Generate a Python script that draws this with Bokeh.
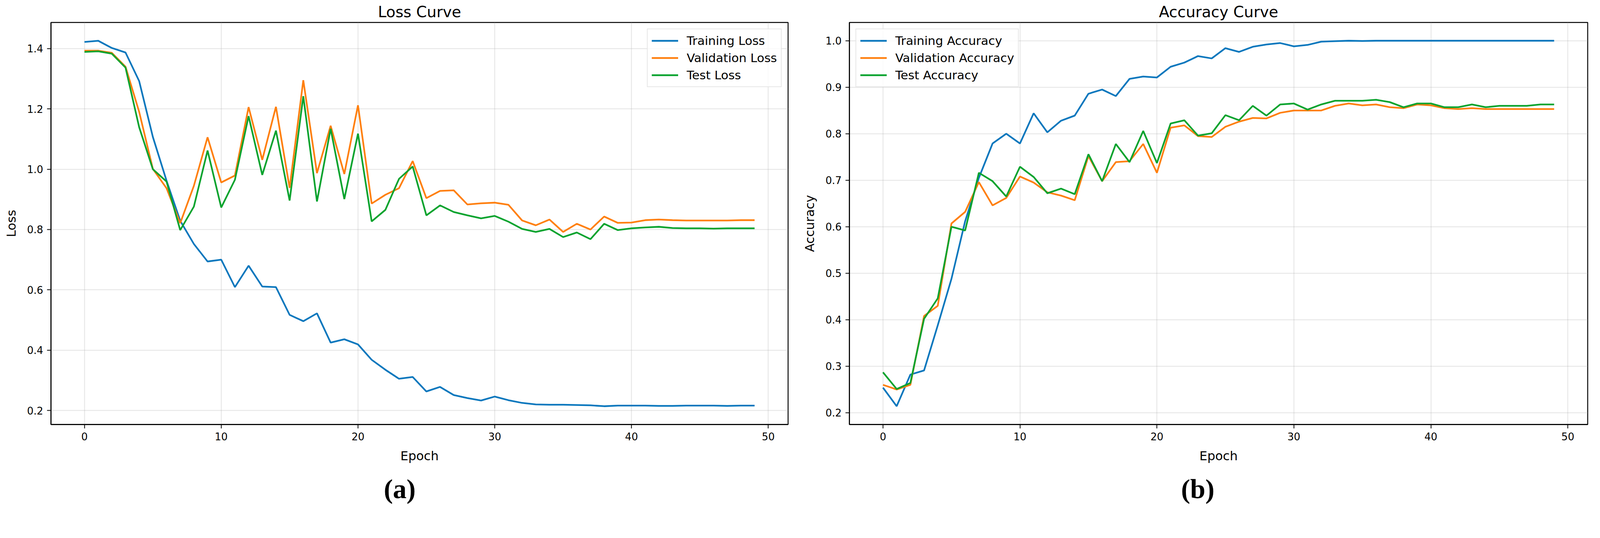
from bokeh.plotting import figure
from bokeh.models import Range1d, FixedTicker, NumeralTickFormatter, Title
from bokeh.layouts import row
from bokeh.embed import file_html
from bokeh.resources import INLINE

epochs = list(range(50))

train_loss = [1.422, 1.426, 1.402, 1.387, 1.292, 1.107, 0.962, 0.829, 0.752, 0.694,
              0.700, 0.609, 0.680, 0.611, 0.609, 0.517, 0.496, 0.522, 0.425, 0.436,
              0.419, 0.368, 0.335, 0.305, 0.311, 0.263, 0.278, 0.251, 0.241, 0.233,
              0.246, 0.234, 0.225, 0.220, 0.219, 0.219, 0.218, 0.217, 0.214, 0.216,
              0.216, 0.216, 0.215, 0.215, 0.216, 0.216, 0.216, 0.215, 0.216, 0.216]
val_loss = [1.393, 1.393, 1.386, 1.340, 1.190, 1.001, 0.937, 0.821, 0.945, 1.106,
            0.956, 0.979, 1.206, 1.031, 1.207, 0.938, 1.295, 0.987, 1.144, 0.984,
            1.212, 0.886, 0.915, 0.937, 1.027, 0.904, 0.928, 0.930, 0.883, 0.887,
            0.889, 0.882, 0.830, 0.814, 0.833, 0.792, 0.819, 0.800, 0.843, 0.822,
            0.823, 0.831, 0.833, 0.831, 0.830, 0.830, 0.830, 0.830, 0.831, 0.831]
test_loss = [1.389, 1.391, 1.383, 1.337, 1.139, 1.000, 0.959, 0.798, 0.876, 1.062,
             0.873, 0.965, 1.176, 0.981, 1.128, 0.896, 1.242, 0.893, 1.134, 0.901,
             1.118, 0.827, 0.865, 0.968, 1.009, 0.847, 0.880, 0.858, 0.847, 0.837,
             0.845, 0.826, 0.802, 0.792, 0.802, 0.775, 0.790, 0.768, 0.819, 0.798,
             0.804, 0.807, 0.809, 0.805, 0.804, 0.804, 0.803, 0.804, 0.804, 0.804]

train_acc = [0.254, 0.214, 0.282, 0.291, 0.388, 0.488, 0.612, 0.705, 0.779, 0.800,
             0.779, 0.844, 0.803, 0.828, 0.839, 0.886, 0.895, 0.881, 0.918, 0.923,
             0.921, 0.944, 0.953, 0.967, 0.962, 0.984, 0.976, 0.987, 0.992, 0.995,
             0.988, 0.991, 0.998, 0.999, 1.000, 0.9995, 1.000, 1.000, 1.000, 1.000,
             1.000, 1.000, 1.000, 1.000, 1.000, 1.000, 1.000, 1.000, 1.000, 1.000]
val_acc = [0.260, 0.250, 0.260, 0.408, 0.430, 0.607, 0.632, 0.696, 0.646, 0.662,
           0.708, 0.695, 0.674, 0.667, 0.657, 0.752, 0.698, 0.739, 0.741, 0.778,
           0.716, 0.813, 0.818, 0.795, 0.793, 0.815, 0.826, 0.834, 0.833, 0.845,
           0.850, 0.850, 0.850, 0.860, 0.865, 0.861, 0.863, 0.857, 0.855, 0.863,
           0.861, 0.855, 0.853, 0.855, 0.853, 0.853, 0.853, 0.853, 0.853, 0.853]
test_acc = [0.287, 0.251, 0.264, 0.402, 0.446, 0.600, 0.592, 0.716, 0.698, 0.665,
            0.729, 0.707, 0.672, 0.682, 0.670, 0.756, 0.698, 0.778, 0.739, 0.806,
            0.737, 0.822, 0.829, 0.796, 0.801, 0.840, 0.829, 0.860, 0.839, 0.863,
            0.865, 0.852, 0.863, 0.871, 0.871, 0.871, 0.873, 0.868, 0.857, 0.865,
            0.865, 0.857, 0.857, 0.863, 0.857, 0.860, 0.860, 0.860, 0.863, 0.863]

x_ticks = [0, 10, 20, 30, 40, 50]
loss_ticks = [0.2, 0.4, 0.6, 0.8, 1.0, 1.2, 1.4]
acc_ticks = [0.2, 0.3, 0.4, 0.5, 0.6, 0.7, 0.8, 0.9, 1.0]

loss_labels = ["Training Loss", "Validation Loss", "Test Loss"]
acc_labels = ["Training Accuracy", "Validation Accuracy", "Test Accuracy"]
colors = ["#0a77bd", "#ff7f0e", "#0aa32e"]

FONT = "DejaVu Sans"


def padded(vals):
    lo, hi = min(vals), max(vals)
    pad = 0.05 * (hi - lo)
    return lo - pad, hi + pad


def make_panel(title, ylabel, series, labels, yticks, legend_loc, caption,
               w, ml, mr, cap_offset):
    allv = [v for s in series for v in s]
    y0, y1 = padded(allv)
    x0, x1 = padded(epochs)
    p = figure(width=w, height=1311,
               x_range=Range1d(x0, x1), y_range=Range1d(y0, y1),
               output_backend="svg", toolbar_location=None,
               min_border_left=ml, min_border_right=mr,
               min_border_top=55, min_border_bottom=222)
    p.title.text = title
    p.title.align = "center"
    p.title.text_font = FONT
    p.title.text_font_size = "39px"
    p.title.text_font_style = "normal"
    p.title.text_color = "black"
    p.title.standoff = 10

    for s, lab, c in zip(series, labels, colors):
        p.line(epochs, s, line_color=c, line_width=4.3, legend_label=lab)

    p.xaxis.ticker = FixedTicker(ticks=x_ticks)
    p.yaxis.ticker = FixedTicker(ticks=yticks)
    p.yaxis.formatter = NumeralTickFormatter(format="0.0")
    p.xaxis.axis_label = "Epoch"
    p.yaxis.axis_label = ylabel
    for ax in (p.xaxis, p.yaxis):
        ax.axis_label_text_font = FONT
        ax.axis_label_text_font_size = "32px"
        ax.axis_label_text_font_style = "normal"
        ax.axis_label_text_color = "black"
        ax.major_label_text_font = FONT
        ax.major_label_text_font_size = "26px"
        ax.major_label_text_color = "black"
        ax.major_tick_in = 0
        ax.major_tick_out = 10
        ax.major_tick_line_width = 2
        ax.minor_tick_line_color = None
        ax.axis_line_width = 2.4
        ax.major_label_standoff = 10
    p.xaxis.axis_label_standoff = 18
    p.yaxis.axis_label_standoff = 18

    p.outline_line_color = "black"
    p.outline_line_width = 2.4
    p.outline_line_alpha = 1.0
    p.grid.grid_line_color = "#b0b0b0"
    p.grid.grid_line_alpha = 0.35
    p.grid.grid_line_width = 2

    lg = p.legend[0]
    lg.location = legend_loc
    lg.margin = 16
    lg.padding = 10
    lg.spacing = 6
    lg.glyph_width = 68
    lg.glyph_height = 38
    lg.label_height = 38
    lg.label_standoff = 22
    lg.label_text_font = FONT
    lg.label_text_font_size = "31px"
    lg.label_text_color = "black"
    lg.border_line_color = "#d0d0d0"
    lg.border_line_width = 2
    lg.background_fill_alpha = 0.8

    cap = Title(text=caption, align="left", text_font="Liberation Serif",
                text_font_size="70px", text_font_style="bold",
                text_color="black", offset=cap_offset, standoff=44)
    p.add_layout(cap, "below")
    return p


p1 = make_panel("Loss Curve", "Loss", [train_loss, val_loss, test_loss], loss_labels,
                loss_ticks, "top_right", "(a)", 2043, 130, 26, 852)
p2 = make_panel("Accuracy Curve", "Accuracy", [train_acc, val_acc, test_acc], acc_labels,
                acc_ticks, "top_left", "(b)", 2041, 131, 20, 849)

layout = row(p1, p2, spacing=0)
open("out.html", "w").write(file_html(layout, INLINE))
